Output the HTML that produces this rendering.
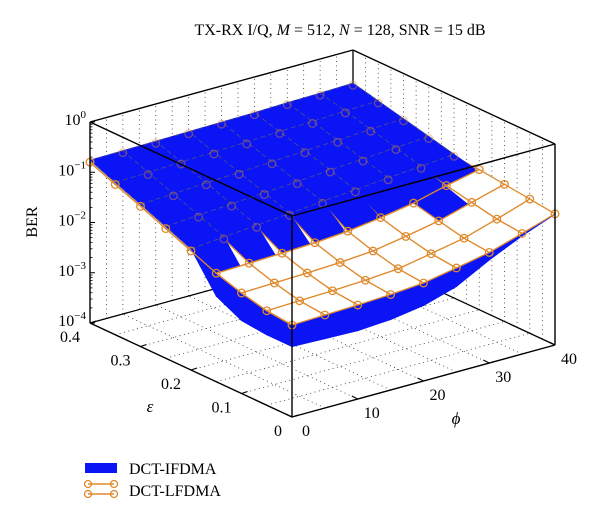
<!DOCTYPE html>
<html><head><meta charset="utf-8">
<style>
html,body{margin:0;padding:0;background:#fff;}
svg{display:block;font-family:"Liberation Serif",serif;}
</style></head>
<body>
<svg id="chart" width="600" height="523" viewBox="0 0 600 523" xmlns="http://www.w3.org/2000/svg">
<text x="340" y="35" font-size="16" text-anchor="middle">TX-RX I/Q, <tspan font-style="italic">M</tspan> = 512, <tspan font-style="italic">N</tspan> = 128, SNR = 15 dB</text>
<g id="walls"></g>
<g id="surf"></g>
<g id="front"></g>
<g id="labels"></g>
<g>
 <g>
  <rect x="85" y="463" width="32" height="10" fill="#0a14f5"/>
  <text x="129" y="474" font-size="16">DCT-IFDMA</text>
 </g>
 <g>
  <line x1="88" y1="484" x2="114" y2="484" stroke="#e08a2c" stroke-width="1.5"/>
  <line x1="88" y1="494" x2="114" y2="494" stroke="#e08a2c" stroke-width="1.5"/>
  <circle cx="88" cy="484" r="3.5" fill="none" stroke="#e08a2c" stroke-width="1.3"/>
  <circle cx="88" cy="494" r="3.5" fill="none" stroke="#e08a2c" stroke-width="1.3"/>
  <circle cx="114" cy="484" r="3.5" fill="none" stroke="#e08a2c" stroke-width="1.3"/>
  <circle cx="114" cy="494" r="3.5" fill="none" stroke="#e08a2c" stroke-width="1.3"/>
  <text x="129" y="496" font-size="16">DCT-LFDMA</text>
 </g>
</g>
</svg>
<script>
// data: phi values, eps values, log10(BER) per eps row (eps 0 -> 0.4), per phi column
const phiVals = [0,5,10,15,20,25,30,35,40];
const epsVals = [0,0.05,0.1,0.15,0.2,0.25,0.3,0.35,0.4];
const ifdmaLog = [
 [-2.60,-2.62,-2.64,-2.60,-2.50,-2.30,-1.95,-1.65,-1.40],
 [-2.60,-2.60,-2.58,-2.52,-2.40,-2.20,-1.90,-1.62,-1.40],
 [-2.55,-2.50,-2.45,-2.35,-2.20,-2.00,-1.75,-1.55,-1.38],
 [-2.30,-2.20,-2.05,-1.95,-1.80,-1.65,-1.50,-1.38,-1.26],
 [-1.59,-1.53,-1.48,-1.42,-1.36,-1.31,-1.25,-1.20,-1.14],
 [-1.38,-1.33,-1.29,-1.24,-1.20,-1.15,-1.11,-1.06,-1.02],
 [-1.17,-1.14,-1.10,-1.07,-1.04,-1.00,-0.97,-0.93,-0.90],
 [-0.97,-0.95,-0.92,-0.90,-0.88,-0.85,-0.83,-0.80,-0.78],
 [-0.76,-0.75,-0.74,-0.73,-0.72,-0.71,-0.69,-0.68,-0.66]
];
const lfdmaLog = [
 [-2.17,-2.15,-2.13,-2.10,-2.05,-1.93,-1.80,-1.60,-1.39],
 [-2.12,-2.10,-2.08,-2.05,-2.00,-1.88,-1.75,-1.55,-1.33],
 [-2.00,-1.98,-1.96,-1.93,-1.88,-1.77,-1.64,-1.45,-1.27],
 [-1.84,-1.82,-1.80,-1.77,-1.72,-1.63,-1.52,-1.35,-1.21],
 [-1.63,-1.57,-1.52,-1.46,-1.40,-1.35,-1.29,-1.24,-1.18],
 [-1.42,-1.37,-1.33,-1.28,-1.24,-1.19,-1.15,-1.10,-1.06],
 [-1.21,-1.18,-1.14,-1.11,-1.08,-1.04,-1.01,-0.97,-0.94],
 [-1.01,-0.99,-0.96,-0.94,-0.92,-0.89,-0.87,-0.84,-0.82],
 [-0.80,-0.79,-0.78,-0.77,-0.76,-0.75,-0.73,-0.72,-0.70]
];
const zTicks = [0,-1,-2,-3,-4];
const phiTicks = [0,10,20,30,40];
const epsTicks = [0,0.1,0.2,0.3,0.4];

const NS='http://www.w3.org/2000/svg';
const O={x:292,y:417};
function P(phi,eps,lz){
  const zp=(lz+4)*50.25;
  return [O.x+phi/40*263-eps/0.4*202, O.y-phi/40*72-eps/0.4*94-zp];
}
function mk(tag,attrs,parent){const e=document.createElementNS(NS,tag);for(const k in attrs)e.setAttribute(k,attrs[k]);parent.appendChild(e);return e;}
function pts(a){return a.map(p=>p[0].toFixed(1)+','+p[1].toFixed(1)).join(' ');}
const walls=document.getElementById('walls'),surf=document.getElementById('surf'),front=document.getElementById('front'),labels=document.getElementById('labels');

const dot={stroke:'#333','stroke-width':0.8,'stroke-dasharray':'1 3.5',fill:'none'};
for(let f=0;f<=40;f+=2.5){
  const a=P(f,0.4,-4),b=P(f,0.4,0);
  const l=mk('line',Object.assign({x1:a[0],y1:a[1],x2:b[0],y2:b[1]},dot),walls);
  
}
for(let e=0;e<0.4;e+=0.025){
  const a=P(40,e,-4),b=P(40,e,0);
  const l=mk('line',Object.assign({x1:a[0],y1:a[1],x2:b[0],y2:b[1]},dot),walls);
  
}
for(let f=0;f<=40;f+=5){
  const a=P(f,0,-4),b=P(f,0.4,-4);
  const l=mk('line',Object.assign({x1:a[0],y1:a[1],x2:b[0],y2:b[1]},dot),walls);
  
}
for(let e=0;e<=0.4;e+=0.05){
  const a=P(0,e,-4),b=P(40,e,-4);
  const l=mk('line',Object.assign({x1:a[0],y1:a[1],x2:b[0],y2:b[1]},dot),walls);
  
}
[[P(0,0.4,-4),P(40,0.4,-4)],[P(40,0.4,-4),P(40,0,-4)],[P(40,0.4,-4),P(40,0.4,0)]].forEach(s=>{
  const l=mk('line',{x1:s[0][0],y1:s[0][1],x2:s[1][0],y2:s[1][1],stroke:'#000','stroke-width':1.3},walls);
  
});

const cells=[];
for(let j=0;j<8;j++)for(let i=0;i<8;i++)cells.push([j,i]);
cells.sort((a,b)=>(b[0]+b[1])-(a[0]+a[1]));
function quad(arr,j,i){return [P(phiVals[i],epsVals[j],arr[j][i]),P(phiVals[i+1],epsVals[j],arr[j][i+1]),P(phiVals[i+1],epsVals[j+1],arr[j+1][i+1]),P(phiVals[i],epsVals[j+1],arr[j+1][i])];}
function drawBlue(j,i){
  const q=quad(ifdmaLog,j,i);
  const p=mk('polygon',{points:pts(q),fill:'#0a14f5',stroke:'#0a14f5','stroke-width':0.8},surf);
  
}
function drawOrange(j,i){
  const q=quad(lfdmaLog,j,i);
  const p=mk('polygon',{points:pts(q),fill:'#fff',stroke:'#e08a2c','stroke-width':1.3},surf);
  
}
cells.forEach(([j,i])=>{
  const top=lfdmaLog[j][i]>ifdmaLog[j][i]&&lfdmaLog[j+1][i]>ifdmaLog[j+1][i];
  if(top){drawBlue(j,i);drawOrange(j,i);}
  else{drawOrange(j,i);drawBlue(j,i);}
});
for(let j=4;j<9;j++){
  const a=[];for(let i=0;i<9;i++)a.push(P(phiVals[i],epsVals[j],ifdmaLog[j][i]));
  const l=mk('polyline',{points:pts(a),fill:'none',stroke:'#4a4a90','stroke-width':0.9,'stroke-dasharray':'5 3'},surf);
  
}
for(let i=0;i<9;i++){
  const a=[];for(let j=4;j<9;j++)a.push(P(phiVals[i],epsVals[j],ifdmaLog[j][i]));
  const l=mk('polyline',{points:pts(a),fill:'none',stroke:'#4a4a90','stroke-width':0.9,'stroke-dasharray':'5 3'},surf);
  
}
{
  const a=[];for(let i=0;i<9;i++)a.push(P(phiVals[i],epsVals[3],lfdmaLog[3][i]));
  const l=mk('polyline',{points:pts(a),fill:'none',stroke:'#e08a2c','stroke-width':1.3},surf);
  
}
{
  const a=[];for(let j=0;j<9;j++)a.push(P(0,epsVals[j],lfdmaLog[j][0]));
  const l=mk('polyline',{points:pts(a),fill:'none',stroke:'#e08a2c','stroke-width':1.3},surf);
  
}
for(let j=0;j<9;j++)for(let i=0;i<9;i++){
  const above=j<=3||i===0;
  const p=P(phiVals[i],epsVals[j],lfdmaLog[j][i]);
  const c=mk('circle',{cx:p[0],cy:p[1],r:3.8,fill:'none',stroke:'#e08a2c','stroke-width':1.3,'stroke-opacity':above?1:0.45},surf);
  
}

[[P(0,0.4,0),P(0,0,0)],[P(0,0,0),P(40,0,0)],[P(40,0,0),P(40,0.4,0)],[P(40,0.4,0),P(0,0.4,0)],
 [P(0,0.4,-4),P(0,0.4,0)],[P(0,0,-4),P(0,0,0)],[P(40,0,-4),P(40,0,0)],
 [P(0,0.4,-4),P(0,0,-4)],[P(0,0,-4),P(40,0,-4)]].forEach(s=>{
  const l=mk('line',{x1:s[0][0],y1:s[0][1],x2:s[1][0],y2:s[1][1],stroke:'#000','stroke-width':1.4},front);
  
});
zTicks.forEach(z=>{
  const p=P(0,0.4,z);
  const t=mk('line',{x1:p[0],y1:p[1],x2:p[0]+5,y2:p[1],stroke:'#000','stroke-width':1},front);
  
  for(let m=2;m<10&&z>-4;m++){
    const q=P(0,0.4,z-1+Math.log10(m));
    const tm=mk('line',{x1:q[0],y1:q[1],x2:q[0]+2.5,y2:q[1],stroke:'#000','stroke-width':0.8},front);
    
  }
  const tx=mk('text',{x:p[0]-4,y:p[1]+3,'font-size':16,'text-anchor':'end'},labels);
  
  tx.textContent='10';
  const sup=mk('tspan',{dy:-7,'font-size':11},tx);sup.textContent=z===0?'0':'\u2212'+(-z);
});
phiTicks.forEach(f=>{
  const p=P(f,0,-4);
  const t=mk('line',{x1:p[0],y1:p[1],x2:p[0]-6,y2:p[1]-3,stroke:'#000','stroke-width':1},front);
  
  const tx=mk('text',{x:p[0]+14,y:p[1]+19,'font-size':16,'text-anchor':'middle'},labels);
  
  tx.textContent=f;
});
epsTicks.forEach(e=>{
  const p=P(0,e,-4);
  const t=mk('line',{x1:p[0],y1:p[1],x2:p[0]+6,y2:p[1]-2,stroke:'#000','stroke-width':1},front);
  
  const tx=mk('text',{x:p[0]-10,y:p[1]+19,'font-size':16,'text-anchor':'end'},labels);
  
  tx.textContent=e===0?'0':String(e);
});
{
  let t=mk('text',{x:150,y:412,'font-size':17,'font-style':'italic','text-anchor':'middle'},labels);
  t.textContent='\u03b5';
  t=mk('text',{x:456,y:424,'font-size':17,'font-style':'italic','text-anchor':'middle'},labels);
  t.textContent='\u03d5';
  t=mk('text',{x:37,y:222,'font-size':16,'text-anchor':'middle',transform:'rotate(-90 37 222)'},labels);
  t.textContent='BER';
}
</script>
</body></html>
